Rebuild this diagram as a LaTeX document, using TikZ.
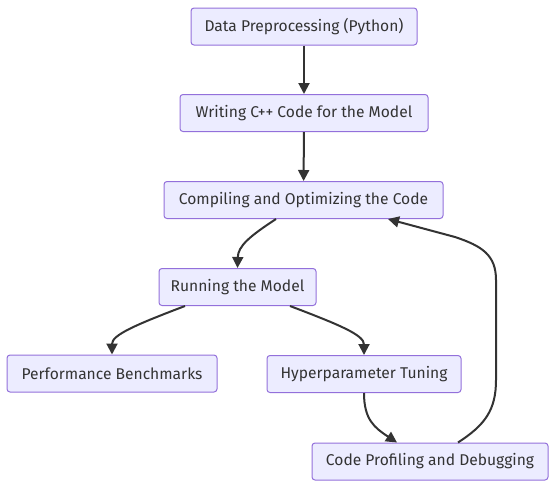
\documentclass[tikz,border=0pt]{standalone}
\usepackage{fontspec}
\setmainfont{Fira Sans}
\usepackage{tikz}
\usetikzlibrary{arrows.meta}

\definecolor{mmfill}{HTML}{ECECFF}
\definecolor{mmborder}{HTML}{9370DB}
\definecolor{mmtext}{HTML}{333333}
\definecolor{mmline}{HTML}{333333}

\begin{document}
\begin{tikzpicture}[x=1pt, y=-1pt,
        font=\fontsize{15.6}{18}\selectfont,
        box/.style={draw=mmborder, fill=mmfill, text=mmtext, line width=1pt,
            rounded corners=3pt, minimum height=37pt, inner sep=0pt},
        link/.style={draw=mmline, line width=2pt},
        >={Triangle[length=11pt,width=11pt]} % Pfeilspitzen
        ]
            \useasboundingbox (0,0) rectangle (556,488);

            % Knoten
            \node[box, minimum width=226pt] (prep)    at (304,26.5)   {Data Preprocessing (Python)};
            \node[box, minimum width=248pt] (code)    at (304,113)    {Writing C++ Code for the Model};
            \node[box, minimum width=279pt] (compile) at (303.5,200)  {Compiling and Optimizing the Code};
            \node[box, minimum width=157pt] (run)     at (237.5,287)  {Running the Model};
            \node[box, minimum width=210pt] (bench)   at (112,373.5)  {Performance Benchmarks};
            \node[box, minimum width=194pt] (tune)    at (364,374)    {Hyperparameter Tuning};
            \node[box, minimum width=236pt] (profile) at (430,461.5)  {Code Profiling and Debugging};

            % Pfeile
            \draw[link,->] (prep) -- (code);
            \draw[link,->] (code) -- (compile);
            \draw[link,->] ([xshift=-27.5pt]compile.south)
                    .. controls (250,236) and (238,246) .. (run.north);
            \draw[link,->] ([xshift=-52.5pt]run.south)
                    .. controls (135,325) and (112,335) .. (bench.north);
            \draw[link,->] ([xshift=52.5pt]run.south)
                    .. controls (340,325) and (364,335) .. (tune.north);
            \draw[link,->] (tune.south)
                    .. controls (364,420) and (375,428) .. ([xshift=-33pt]profile.north);
            \draw[link,->] ([xshift=28pt]profile.north)
                    .. controls (485,425) and (496,410) .. (496,380)
                    -- (496,280)
                    .. controls (496,255) and (482,246) .. (455,237)
                    -- ([xshift=84.5pt]compile.south);
        \end{tikzpicture}
\end{document}
